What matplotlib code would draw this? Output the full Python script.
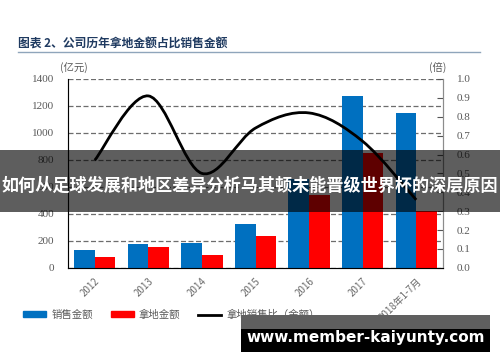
import numpy as np
import matplotlib.pyplot as plt
from matplotlib.path import Path
from matplotlib.patches import PathPatch, Patch, Rectangle
from matplotlib.lines import Line2D

plt.rcParams['font.family'] = ['Noto Sans CJK SC', 'DejaVu Sans']

# data
years = ['2012', '2013', '2014', '2015', '2016', '2017', '2018年1-7月']
sales = [134, 176, 188, 325, 656, 1276, 1144]      # 销售金额 (亿元)
land = [77, 156, 95, 238, 538, 854, 419]           # 拿地金额 (亿元)
ratio = [0.57, 0.91, 0.50, 0.74, 0.82, 0.67, 0.36]  # 拿地销售比 (倍)

left_ticks = [0, 200, 400, 600, 800, 1000, 1200, 1400]
right_ticks = [0.0, 0.1, 0.2, 0.3, 0.4, 0.5, 0.6, 0.7, 0.8, 0.9, 1.0]

blue = '#0070C0'
red = '#FF0000'
grey = '#595959'
serif = ['Liberation Serif', 'DejaVu Serif']

fig = plt.figure(figsize=(5, 3.62), dpi=100)
ax = fig.add_axes([0.136, 0.26, 0.75, 0.522])
ax2 = ax.twinx()

x = np.arange(len(years))
w = 0.386
ax.bar(x - w / 2, sales, w, color=blue, zorder=3)
ax.bar(x + w / 2, land, w, color=red, zorder=3)

ax.set_xlim(-0.5, len(years) - 0.5)
ax.set_ylim(0, 1400)
ax.set_yticks(left_ticks)
ax.set_yticklabels([str(t) for t in left_ticks], family=serif, fontsize=8, color=grey)
ax.tick_params(axis='y', length=0, pad=10)
ax.yaxis.grid(True, linestyle=(0, (4, 2)), color='#6d6d6d', linewidth=0.9)
ax.set_axisbelow(True)
ax.set_xticks(x)
ax.set_xticklabels(years, rotation=45, ha='right', va='top', rotation_mode='anchor',
                   fontsize=7, color='#6a6a6a')
ax.tick_params(axis='x', length=0, pad=6)
for s in ['left', 'bottom', 'right']:
    ax.spines[s].set_color('#8c8c8c')
ax.spines['top'].set_visible(False)

ax2.set_ylim(0, 1.0)
ax2.set_yticks(right_ticks)
ax2.set_yticklabels(['%.1f' % t for t in right_ticks], family=serif, fontsize=8, color=grey)
ax2.tick_params(axis='y', direction='in', length=4, color='#555555', pad=10)
ax2.spines['top'].set_visible(False)
ax2.spines['right'].set_color('#8c8c8c')

# smoothed ratio line (Catmull-Rom as cubic bezier)
pts = np.column_stack([x, ratio]).astype(float)
ext = np.vstack([pts[0], pts, pts[-1]])
verts = [pts[0]]
codes = [Path.MOVETO]
for i in range(len(pts) - 1):
    p0, p1, p2, p3 = ext[i], ext[i + 1], ext[i + 2], ext[i + 3]
    verts += [p1 + (p2 - p0) / 6, p2 - (p3 - p1) / 6, p2]
    codes += [Path.CURVE4] * 3
ax2.add_patch(PathPatch(Path(verts, codes), facecolor='none', edgecolor='black',
                        linewidth=2, zorder=4))

fig.text(0.12, 0.805, '(亿元)', fontsize=7.5, color=grey)
fig.text(0.858, 0.805, '(倍)', fontsize=7.5, color=grey)

# title
fig.text(0.036, 0.868, '图表 2、公司历年拿地金额占比销售金额', fontsize=8.5,
         fontweight='bold', color='#1f3a60')
fig.add_artist(Line2D([0.036, 0.96], [0.857, 0.857], color='#8fa5bb', linewidth=1))

handles = [Patch(color=blue), Patch(color=red), Line2D([], [], color='black', linewidth=2)]
fig.legend(handles, ['销售金额', '拿地金额', '拿地销售比（金额）'], loc='center left',
           bbox_to_anchor=(0.028, 0.13), ncol=3, frameon=False, fontsize=7.5,
           handlelength=2.2, handleheight=0.5, handletextpad=0.5, columnspacing=1.7,
           labelcolor=grey)

# overlay banner
fig.add_artist(Rectangle((0, 0.415), 1, 0.17, transform=fig.transFigure,
                         facecolor='black', alpha=0.63, zorder=10))
fig.text(0.5, 0.488, '如何从足球发展和地区差异分析马其顿未能晋级世界杯的深层原因',
         ha='center', va='center', fontsize=12.3, fontweight='bold', color='white', zorder=11)

# watermark box
fig.add_artist(Rectangle((0.482, 0.092), 0.498, 0.038, transform=fig.transFigure,
                         facecolor='#5f5f5f', zorder=10))
fig.add_artist(Rectangle((0.482, 0.028), 0.498, 0.064, transform=fig.transFigure,
                         facecolor='black', zorder=10))
fig.text(0.731, 0.068, 'www.member-kaiyunty.com', ha='center', va='center', fontsize=11,
         fontweight='bold', color='white', family='DejaVu Sans', zorder=11)

fig.savefig('out.png', dpi=100)
